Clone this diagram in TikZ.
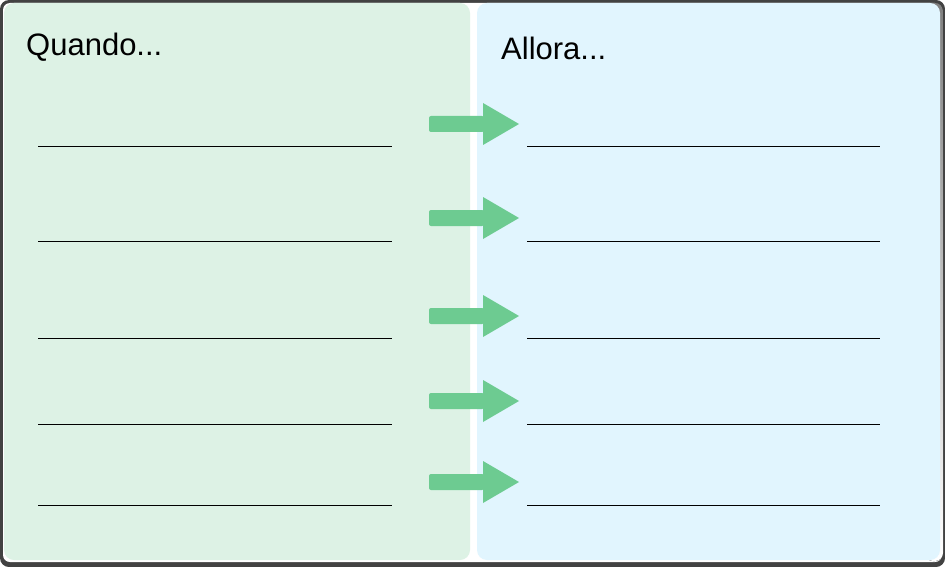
\documentclass[tikz,border=0pt]{standalone}
\usepackage{fontspec}
\setmainfont{Liberation Sans}
\definecolor{frame}{HTML}{424242}
\definecolor{shade}{HTML}{90A4AE}
\definecolor{leftbg}{HTML}{DDF2E5}
\definecolor{rightbg}{HTML}{E1F5FE}
\definecolor{arrowgreen}{HTML}{6DCB91}
\tikzset{
  panel/.style={rounded corners=10pt},
  title/.style={anchor=base west, inner sep=0pt, font=\fontsize{31}{36}\selectfont, text=black},
  blank/.style={line width=1pt, draw=black},
  bigarrow/.style={fill=arrowgreen, draw=none}
}
\begin{document}
\begin{tikzpicture}[x=1pt,y=-1pt]
\useasboundingbox (0,0) rectangle (945,567);
% outer frame
\fill[frame, rounded corners=9pt] (0,0) rectangle (945,567);
\fill[white, rounded corners=7pt] (3,3) rectangle (942,562);
% right shadow
\fill[shade, rounded corners=8pt] (925,3) rectangle (943,561);
% panels
\fill[leftbg, panel] (4,3) rectangle (470,560);
\fill[rightbg, panel] (477,3) rectangle (940,560);
% titles
\node[title] (q) at (26,56) {Quando...};
\node[title] (a) at (501,60) {Allora...};
% lines and arrows
\foreach \ly/\ay [count=\i] in {147/124, 241/218, 338/316, 424/401, 505/482} {
  \coordinate (l\i a) at (38,\ly);
  \coordinate (l\i b) at (392,\ly);
  \coordinate (r\i a) at (527,\ly);
  \coordinate (r\i b) at (880,\ly);
  \draw[blank] (l\i a) -- (l\i b);
  \draw[blank] (r\i a) -- (r\i b);
  \fill[bigarrow, rounded corners=2pt] (429,\ay-8) -- (484,\ay-8) -- (484,\ay+8) -- (429,\ay+8) -- cycle;
  \fill[bigarrow] (483,\ay-21) -- (519,\ay) -- (483,\ay+21) -- cycle;
}
\end{tikzpicture}
\end{document}
